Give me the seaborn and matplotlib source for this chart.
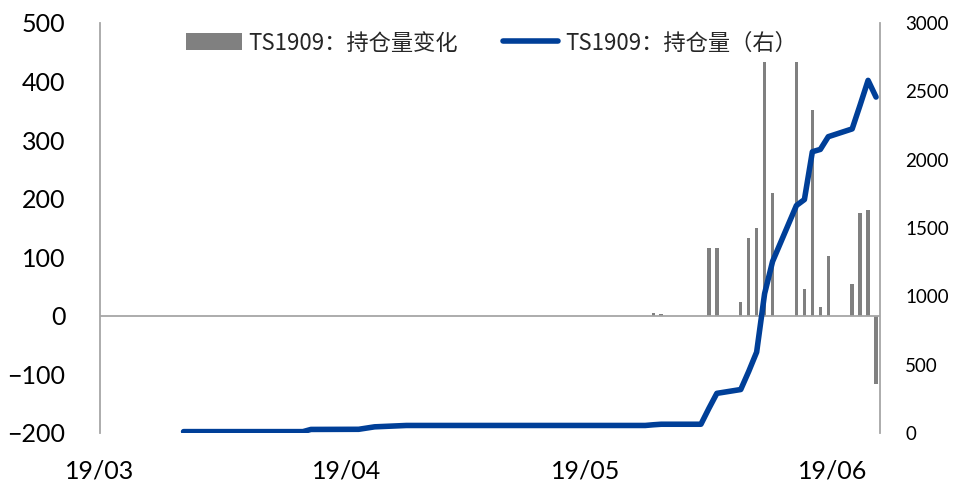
import numpy as np
import pandas as pd
import matplotlib
matplotlib.use("Agg")
import matplotlib.pyplot as plt
import matplotlib.dates as mdates
from matplotlib.patches import Patch
from matplotlib.lines import Line2D
import seaborn as sns

# 持仓量 (right axis), daily, only the points where it moves
oi_dates = ["2019-03-11", "2019-03-26", "2019-03-27", "2019-04-02", "2019-04-03",
            "2019-04-04", "2019-04-08", "2019-05-08", "2019-05-09", "2019-05-10",
            "2019-05-15", "2019-05-16", "2019-05-17", "2019-05-20", "2019-05-21",
            "2019-05-22", "2019-05-23", "2019-05-24", "2019-05-27", "2019-05-28",
            "2019-05-29", "2019-05-30", "2019-05-31", "2019-06-03", "2019-06-04",
            "2019-06-05", "2019-06-06"]
oi_values = [10, 10, 26, 27, 36,
             45, 55, 55, 60, 64,
             64, 180, 290, 318, 450,
             592, 1020, 1255, 1665, 1708,
             2058, 2075, 2168, 2225, 2400,
             2580, 2458]

# 持仓量变化 (left axis)
chg_dates = ["2019-05-09", "2019-05-10", "2019-05-16", "2019-05-17", "2019-05-20",
             "2019-05-21", "2019-05-22", "2019-05-23", "2019-05-24", "2019-05-27",
             "2019-05-28", "2019-05-29", "2019-05-30", "2019-05-31", "2019-06-03",
             "2019-06-04", "2019-06-05", "2019-06-06"]
chg_values = [5, 4, 116, 116, 24,
              133, 150, 433, 210, 433,
              45, 352, 15, 102, 55,
              176, 180, -117]

tick_dates = ["2019-03-01", "2019-04-01", "2019-05-01", "2019-06-01"]
tick_labels = ["19/03", "19/04", "19/05", "19/06"]

bar_label = "TS1909：持仓量变化"
line_label = "TS1909：持仓量（右）"

BAR_COLOR = "#808080"
LINE_COLOR = "#003F98"
AXIS_COLOR = "#A6A6A6"

sns.set_theme(style="white")
plt.rcParams["font.family"] = ["Lato", "Noto Sans CJK SC", "DejaVu Sans"]

# excel date axis: each day sits in the middle of a one-day slot
chg_df = pd.DataFrame({"x": mdates.date2num(pd.to_datetime(chg_dates)) + 0.5,
                       "v": chg_values})
oi_df = pd.DataFrame({"x": mdates.date2num(pd.to_datetime(oi_dates)) + 0.5,
                      "v": oi_values})

fig = plt.figure(figsize=(9.58, 4.84), dpi=100)
ax = fig.add_axes([0.1044, 0.1054, 0.8142, 0.8471])

sns.barplot(data=chg_df, x="x", y="v", native_scale=True, color=BAR_COLOR,
            width=0.42, saturation=1, linewidth=0, edgecolor="none", ax=ax)
ax.axhline(0, color=AXIS_COLOR, lw=1.3, zorder=1)

ax2 = ax.twinx()
sns.lineplot(data=oi_df, x="x", y="v", color=LINE_COLOR, lw=4, ax=ax2)
for ln in ax2.get_lines():
    ln.set_solid_capstyle("round")
    ln.set_solid_joinstyle("round")

xmin = mdates.date2num(pd.Timestamp("2019-03-01"))
xmax = mdates.date2num(pd.Timestamp("2019-06-07"))
ax.set_xlim(xmin, xmax)
ax2.set_xlim(xmin, xmax)
ax.set_ylim(-200, 500)
ax.set_yticks(np.arange(-200, 501, 100))
ax2.set_ylim(0, 3000)
ax2.set_yticks(np.arange(0, 3001, 500))

ax.set_xticks(mdates.date2num(pd.to_datetime(tick_dates)))
ax.set_xticklabels(tick_labels)

for a in (ax, ax2):
    a.set_xlabel("")
    a.set_ylabel("")
    for s in a.spines.values():
        s.set_visible(False)
ax.spines["left"].set_visible(True)
ax.spines["left"].set_color(AXIS_COLOR)
ax.spines["left"].set_linewidth(1.3)
ax2.spines["right"].set_visible(True)
ax2.spines["right"].set_color(AXIS_COLOR)
ax2.spines["right"].set_linewidth(1.3)

ax.tick_params(axis="y", length=0, pad=25, labelsize=18, colors="black")
ax.tick_params(axis="x", length=0, pad=19, labelsize=18, colors="black")
ax2.tick_params(axis="y", length=0, pad=18, labelsize=13.5, colors="black")

handles = [Patch(facecolor=BAR_COLOR, edgecolor="none"),
           Line2D([], [], color=LINE_COLOR, lw=4, solid_capstyle="round")]
ax2.legend(handles, [bar_label, line_label], loc="center",
           bbox_to_anchor=(0.502, 0.951), ncol=2, frameon=False,
           prop={"family": ["Noto Sans CJK SC", "DejaVu Sans"], "size": 16},
           handlelength=2.5, handleheight=0.8, handletextpad=0.3,
           columnspacing=2.0, borderaxespad=0)

fig.savefig("out.png", dpi=100)
